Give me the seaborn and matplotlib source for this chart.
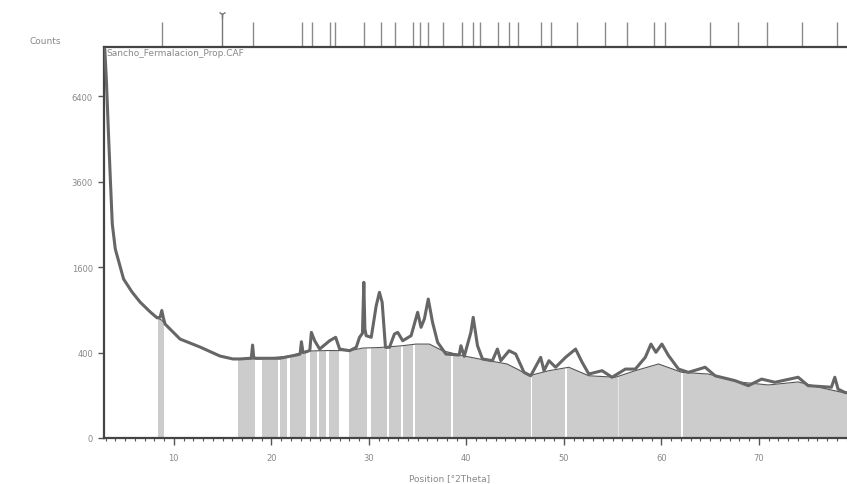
import numpy as np
import pandas as pd
import seaborn as sns
import matplotlib
matplotlib.use("Agg")
import matplotlib.pyplot as plt
from matplotlib.ticker import MultipleLocator, FixedLocator
from matplotlib.transforms import blended_transform_factory

# ---------------- data ----------------
obs_2theta = [2.92, 3.08, 3.28, 3.49, 3.69, 4.00, 4.85, 5.70, 6.55, 7.58, 8.29, 8.60, 8.77, 8.95,
              9.11, 10.64, 12.69, 14.73, 16.06, 16.78, 17.81, 17.95, 18.08, 18.20, 18.49, 20.87,
              22.58, 22.95, 23.09, 23.25, 23.60, 23.95, 24.11, 24.45, 24.96, 25.98, 26.60, 27.01,
              28.03, 28.71, 29.05, 29.35, 29.49, 29.60, 29.73, 30.25, 30.76, 31.09, 31.37, 31.71,
              32.12, 32.63, 32.97, 33.48, 34.34, 35.01, 35.36, 35.70, 36.10, 36.54, 37.06, 37.91,
              39.27, 39.45, 39.79, 40.47, 40.71, 41.15, 41.66, 42.68, 43.19, 43.54, 44.39, 45.07,
              45.92, 46.61, 47.63, 47.97, 48.48, 49.16, 50.18, 51.21, 51.88, 52.57, 53.93, 54.95,
              56.32, 57.34, 58.36, 58.94, 59.45, 60.06, 60.75, 61.77, 62.79, 64.50, 65.52, 67.57,
              68.93, 70.29, 71.66, 74.04, 75.06, 77.45, 77.80, 78.13, 78.82, 79.30]
obs_counts = [8281, 7052, 5225, 3670, 2506, 1954, 1383, 1170, 1010, 870, 790, 800, 890, 780,
              710, 536, 453, 368, 342, 342, 348, 350, 473, 352, 348, 348,
              377, 385, 507, 400, 407, 420, 611, 518, 433, 518, 555, 433,
              417, 450, 555, 600, 1327, 650, 573, 555, 958, 1162, 1008, 450,
              450, 592, 611, 518, 573, 865, 671, 775, 1057, 732, 501, 386,
              377, 466, 365, 611, 797, 466, 342, 327, 433, 327, 417, 386,
              236, 212, 356, 248, 327, 274, 356, 433, 314, 224, 248, 202,
              260, 260, 356, 483, 402, 483, 371, 260, 236, 274, 212, 180,
              150, 190, 170, 202, 150, 141, 202, 131, 114, 110]

bg_2theta = [2.92, 3.08, 3.28, 3.49, 3.69, 4.00, 4.85, 5.70, 6.55, 7.58, 8.29, 8.77, 9.11, 10.64,
             12.69, 14.73, 16.06, 18.82, 21.89, 23.60, 25.98, 28.03, 29.39, 31.09, 33.45, 34.85,
             36.21, 37.57, 39.61, 41.63, 44.18, 45.41, 46.43, 48.48, 50.52, 52.57, 55.30, 57.34,
             59.72, 62.11, 64.84, 67.91, 70.98, 74.04, 76.09, 78.82, 79.30]
bg_counts = [8281, 7052, 5225, 3670, 2506, 1954, 1383, 1170, 1010, 870, 790, 760, 710, 536,
             453, 368, 342, 342, 368, 414, 419, 417, 443, 448, 466, 483,
             483, 417, 371, 337, 300, 253, 212, 248, 274, 212, 202, 248,
             300, 236, 224, 172, 154, 172, 142, 111, 108]

# reference-pattern stick positions (top)
ref_2theta = [8.74, 18.12, 23.15, 24.18, 26.03, 26.54, 29.52, 31.27, 32.71, 34.56, 35.27,
              36.10, 37.64, 39.59, 40.72, 41.44, 43.29, 44.42, 45.34, 47.71, 48.73, 51.40,
              54.18, 56.44, 59.21, 60.34, 64.96, 67.84, 70.82, 74.41, 78.01]
marker_2theta = [14.93]

# white gaps in the background fill
gap_start = [2.0, 8.95, 18.31, 20.70, 21.62, 23.53, 24.68, 25.64, 26.93, 29.80, 31.84, 33.31,
             34.50, 38.43, 46.62, 50.17, 62.02]
gap_end = [8.35, 16.55, 19.00, 20.87, 21.89, 23.94, 24.89, 25.91, 27.95, 30.25, 32.12, 33.55,
           34.74, 38.66, 46.78, 50.35, 62.20]
faint_gap = [55.55, 55.70]

y_ticks = [0, 400, 1600, 3600, 6400]
x_ticks = [10, 20, 30, 40, 50, 60, 70]

# ---------------- drawing ----------------
sns.set_theme(style="white")
plt.rcParams["font.family"] = ["DejaVu Sans"]

W, H = 847, 485
fig = plt.figure(figsize=(W / 100, H / 100), dpi=100)
ax = fig.add_axes([104 / W, 1 - 439 / H, 1 - 104 / W, (439 - 48) / H])
ax.set_yscale("function",
              functions=(lambda y: np.sqrt(np.clip(y, 0, None)), lambda y: np.square(y)))

obs = pd.DataFrame({"x": obs_2theta, "y": obs_counts})
bg = pd.DataFrame({"x": bg_2theta, "y": bg_counts})

ax.fill_between(bg["x"], 0, bg["y"], color="#cccccc", lw=0, zorder=1)
for s, e in zip(gap_start, gap_end):
    ax.axvspan(s, e, color="white", lw=0, zorder=2)
ax.axvspan(faint_gap[0], faint_gap[1], color="white", alpha=0.5, lw=0, zorder=2)

sns.lineplot(data=bg, x="x", y="y", ax=ax, color="#555555", lw=0.8,
             sort=False, estimator=None, zorder=3)
sns.lineplot(data=obs, x="x", y="y", ax=ax, color="#666666", lw=2.2,
             sort=False, estimator=None, zorder=4)

ax.set_xlim(2.84, 79.05)
ax.set_ylim(0, 8370)

ax.xaxis.set_major_locator(FixedLocator(x_ticks))
ax.xaxis.set_minor_locator(MultipleLocator(1))
ax.yaxis.set_major_locator(FixedLocator(y_ticks))
ax.yaxis.set_minor_locator(FixedLocator([]))
ax.set_yticklabels([str(v) for v in y_ticks])
ax.set_xticklabels([str(v) for v in x_ticks])
ax.tick_params(axis="x", which="major", direction="out", length=5, width=1,
               color="#555555", labelsize=6, labelcolor="#888888", pad=6, bottom=True)
ax.tick_params(axis="y", which="major", direction="out", length=4, width=1,
               color="#555555", labelsize=6, labelcolor="#888888", pad=4, left=True)
ax.tick_params(axis="x", which="minor", direction="out", length=2.5, width=0.8,
               color="#555555", bottom=True)
ax.set_xlabel("")
ax.set_ylabel("")

for side in ["left", "bottom", "top"]:
    ax.spines[side].set_visible(True)
    ax.spines[side].set_color("#444444")
    ax.spines[side].set_linewidth(1.6)
ax.spines["right"].set_visible(False)

trans = blended_transform_factory(ax.transData, ax.transAxes)
ax.vlines(ref_2theta, 1.0, 1 + 25 / 391, transform=trans, clip_on=False,
          color="#8a8a8a", lw=1)
ax.vlines(marker_2theta, 1.0, 1 + 33 / 391, transform=trans, clip_on=False,
          color="#777777", lw=1)
ax.plot(marker_2theta, [1 + 33 / 391], transform=trans, clip_on=False,
        marker="1", ms=6, color="#777777", mew=1, ls="none")

ax.text(0.003, 0.997, "Sancho_Fermalacion_Prop.CAF", transform=ax.transAxes,
        ha="left", va="top", fontsize=6.5, color="#888888", zorder=6)
fig.text(45 / W, 1 - 42 / H, "Counts", ha="center", va="center",
         fontsize=6.5, color="#888888")
fig.text(450 / W, 1 - 479 / H, "Position [°2Theta]", ha="center", va="center",
         fontsize=6.5, color="#888888")

fig.savefig("out.png", dpi=100, facecolor="white")
